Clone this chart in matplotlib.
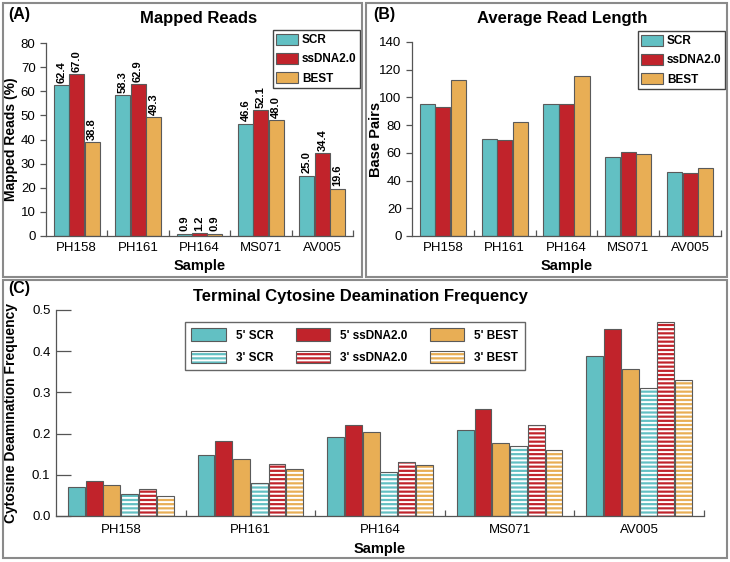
import numpy as np
import matplotlib
matplotlib.use("Agg")
import matplotlib.pyplot as plt
from matplotlib.patches import Patch, Rectangle
from matplotlib.legend_handler import HandlerTuple

plt.rcParams['font.family'] = ['Liberation Sans', 'DejaVu Sans']
plt.rcParams['hatch.linewidth'] = 1.4
plt.rcParams['hatch.color'] = 'white'

# data
samples = ["PH158", "PH161", "PH164", "MS071", "AV005"]
methods = ["SCR", "ssDNA2.0", "BEST"]

mapped_scr = [62.4, 58.3, 0.9, 46.6, 25.0]
mapped_ssdna = [67.0, 62.9, 1.2, 52.1, 34.4]
mapped_best = [38.8, 49.3, 0.9, 48.0, 19.6]

length_scr = [95.2, 69.9, 95.2, 56.9, 46.3]
length_ssdna = [93.0, 69.2, 95.2, 60.5, 45.8]
length_best = [112.3, 82.2, 115.7, 59.0, 49.4]

deam_5_scr = [0.070, 0.149, 0.191, 0.208, 0.388]
deam_5_ssdna = [0.084, 0.182, 0.222, 0.259, 0.454]
deam_5_best = [0.076, 0.139, 0.203, 0.176, 0.357]
deam_3_scr = [0.054, 0.079, 0.106, 0.169, 0.310]
deam_3_ssdna = [0.066, 0.126, 0.132, 0.222, 0.470]
deam_3_best = [0.049, 0.113, 0.125, 0.159, 0.331]

colors = ['#62C0C3', '#C1232B', '#E8AE55']
edge = '#5a5a5a'
axis_col = '#555555'

fig = plt.figure(figsize=(7.3, 5.62), dpi=100)
W, H = 730.0, 562.0


def fx(px):
    return px / W


def fy(py):
    return 1 - py / H


def style_axes(ax, tickdir, xpad):
    for s in ['top', 'right']:
        ax.spines[s].set_visible(False)
    for s in ['left', 'bottom']:
        ax.spines[s].set_color(axis_col)
        ax.spines[s].set_linewidth(0.9)
    ax.tick_params(axis='y', direction=tickdir, color=axis_col, labelsize=9.5,
                   length=4 if tickdir == 'out' else 11, width=0.9)
    ax.set_xlim(-0.5, 4.5)
    x = np.arange(len(samples))
    ax.set_xticks(x)
    ax.set_xticklabels(samples, fontsize=9.5)
    ax.tick_params(axis='x', which='major', length=0, pad=xpad)
    ax.set_xticks(x + 0.5, minor=True)
    ax.tick_params(axis='x', which='minor', direction='in', length=4,
                   color=axis_col, width=0.9)
    ax.set_xlabel("Sample", fontsize=10.5, fontweight='bold', labelpad=4)


# panel frames
for (x0, y0, x1, y1) in [(3, 3, 362, 277), (366, 3, 727, 277), (3, 280, 727, 558)]:
    fig.add_artist(Rectangle((fx(x0), fy(y1)), fx(x1 - x0), (y1 - y0) / H,
                             transform=fig.transFigure, fill=False,
                             ec='#8a8a8a', lw=1.5))

x = np.arange(len(samples))
bw = 0.245

# (A) mapped reads
axA = fig.add_axes([fx(46), fy(236), fx(307), (236 - 43) / H])
for k, (vals, c) in enumerate(zip([mapped_scr, mapped_ssdna, mapped_best], colors)):
    xs = x + (k - 1) * 0.25
    axA.bar(xs, vals, bw, color=c, edgecolor=edge, lw=0.8, label=methods[k])
    for xi, v in zip(xs, vals):
        axA.text(xi, v + 1.0, f"{v:.1f}", rotation=90, ha='center', va='bottom',
                 fontsize=8, fontweight='bold')
axA.set_ylim(0, 80)
axA.set_yticks(np.arange(0, 81, 10))
style_axes(axA, 'out', 4)
axA.set_ylabel("Mapped Reads (%)", fontsize=10, fontweight='bold')
axA.yaxis.set_label_coords((18 - 46) / 307, 0.5)
axA.legend(loc='upper right', bbox_to_anchor=(fx(360), fy(30)),
           bbox_transform=fig.transFigure, prop={'weight': 'bold', 'size': 8.5},
           handlelength=1.85, handleheight=1.1, handletextpad=0.3,
           labelspacing=0.55, borderpad=0.3, borderaxespad=0, fancybox=False,
           edgecolor='#444444', framealpha=1)
fig.text(fx(199), fy(18), "Mapped Reads", ha='center', va='center',
         fontsize=12, fontweight='bold')
fig.text(fx(8), fy(15), "(A)", ha='left', va='center', fontsize=11.5, fontweight='bold')

# (B) average read length
axB = fig.add_axes([fx(412), fy(236), fx(309), (236 - 42) / H])
for k, (vals, c) in enumerate(zip([length_scr, length_ssdna, length_best], colors)):
    axB.bar(x + (k - 1) * 0.25, vals, bw, color=c, edgecolor=edge, lw=0.8,
            label=methods[k])
axB.set_ylim(0, 140)
axB.set_yticks(np.arange(0, 141, 20))
style_axes(axB, 'out', 4)
axB.set_ylabel("Base Pairs", fontsize=10.5, fontweight='bold')
axB.yaxis.set_label_coords((383 - 412) / 309, 0.5)
axB.legend(loc='upper right', bbox_to_anchor=(fx(725), fy(31)),
           bbox_transform=fig.transFigure, prop={'weight': 'bold', 'size': 8.5},
           handlelength=1.85, handleheight=1.1, handletextpad=0.3,
           labelspacing=0.55, borderpad=0.3, borderaxespad=0, fancybox=False,
           edgecolor='#444444', framealpha=1)
fig.text(fx(562), fy(18), "Average Read Length", ha='center', va='center',
         fontsize=12, fontweight='bold')
fig.text(fx(373), fy(15), "(B)", ha='left', va='center', fontsize=11.5, fontweight='bold')

# (C) deamination
axC = fig.add_axes([fx(56), fy(516), fx(648), (516 - 310) / H])
cw = 0.13
series5 = [deam_5_scr, deam_5_ssdna, deam_5_best]
series3 = [deam_3_scr, deam_3_ssdna, deam_3_best]
handles, labels = [], []
for k in range(3):
    axC.bar(x + (k - 2.5) * 0.137, series5[k], cw, color=colors[k],
            edgecolor=edge, lw=0.8)
for k in range(3):
    xs = x + (k + 0.5) * 0.137
    axC.bar(xs, series3[k], cw, color=colors[k], edgecolor='white', lw=0,
            hatch='----')
    axC.bar(xs, series3[k], cw, fill=False, edgecolor=edge, lw=0.8)
for k in range(3):
    handles.append(Patch(facecolor=colors[k], edgecolor=edge, lw=0.8))
    labels.append("5' " + methods[k])
    handles.append((Patch(facecolor=colors[k], edgecolor='white', lw=0, hatch='----'),
                    Patch(fill=False, edgecolor=edge, lw=0.8)))
    labels.append("3' " + methods[k])
axC.set_ylim(0, 0.5)
axC.set_yticks(np.arange(0, 0.51, 0.1))
axC.set_yticklabels([f"{v:.1f}" for v in np.arange(0, 0.51, 0.1)])
style_axes(axC, 'in', 6)
axC.tick_params(axis='y', pad=4)
axC.set_ylabel("Cytosine Deamination Frequency", fontsize=10, fontweight='bold')
axC.yaxis.set_label_coords((18 - 56) / 648, 0.5)
axC.legend(handles, labels, ncol=3, loc='upper left',
           bbox_to_anchor=(fx(185), fy(322)), bbox_transform=fig.transFigure,
           handler_map={tuple: HandlerTuple(ndivide=1)},
           prop={'weight': 'bold', 'size': 8.5}, handlelength=2.9,
           handleheight=1.25, handletextpad=0.85, labelspacing=0.75,
           columnspacing=1.9, borderpad=0.55, borderaxespad=0, fancybox=False,
           edgecolor='#666666', framealpha=1)
fig.text(fx(360), fy(296), "Terminal Cytosine Deamination Frequency", ha='center',
         va='center', fontsize=12, fontweight='bold')
fig.text(fx(8), fy(289), "(C)", ha='left', va='center', fontsize=11.5, fontweight='bold')

fig.savefig("out.png", dpi=100)
